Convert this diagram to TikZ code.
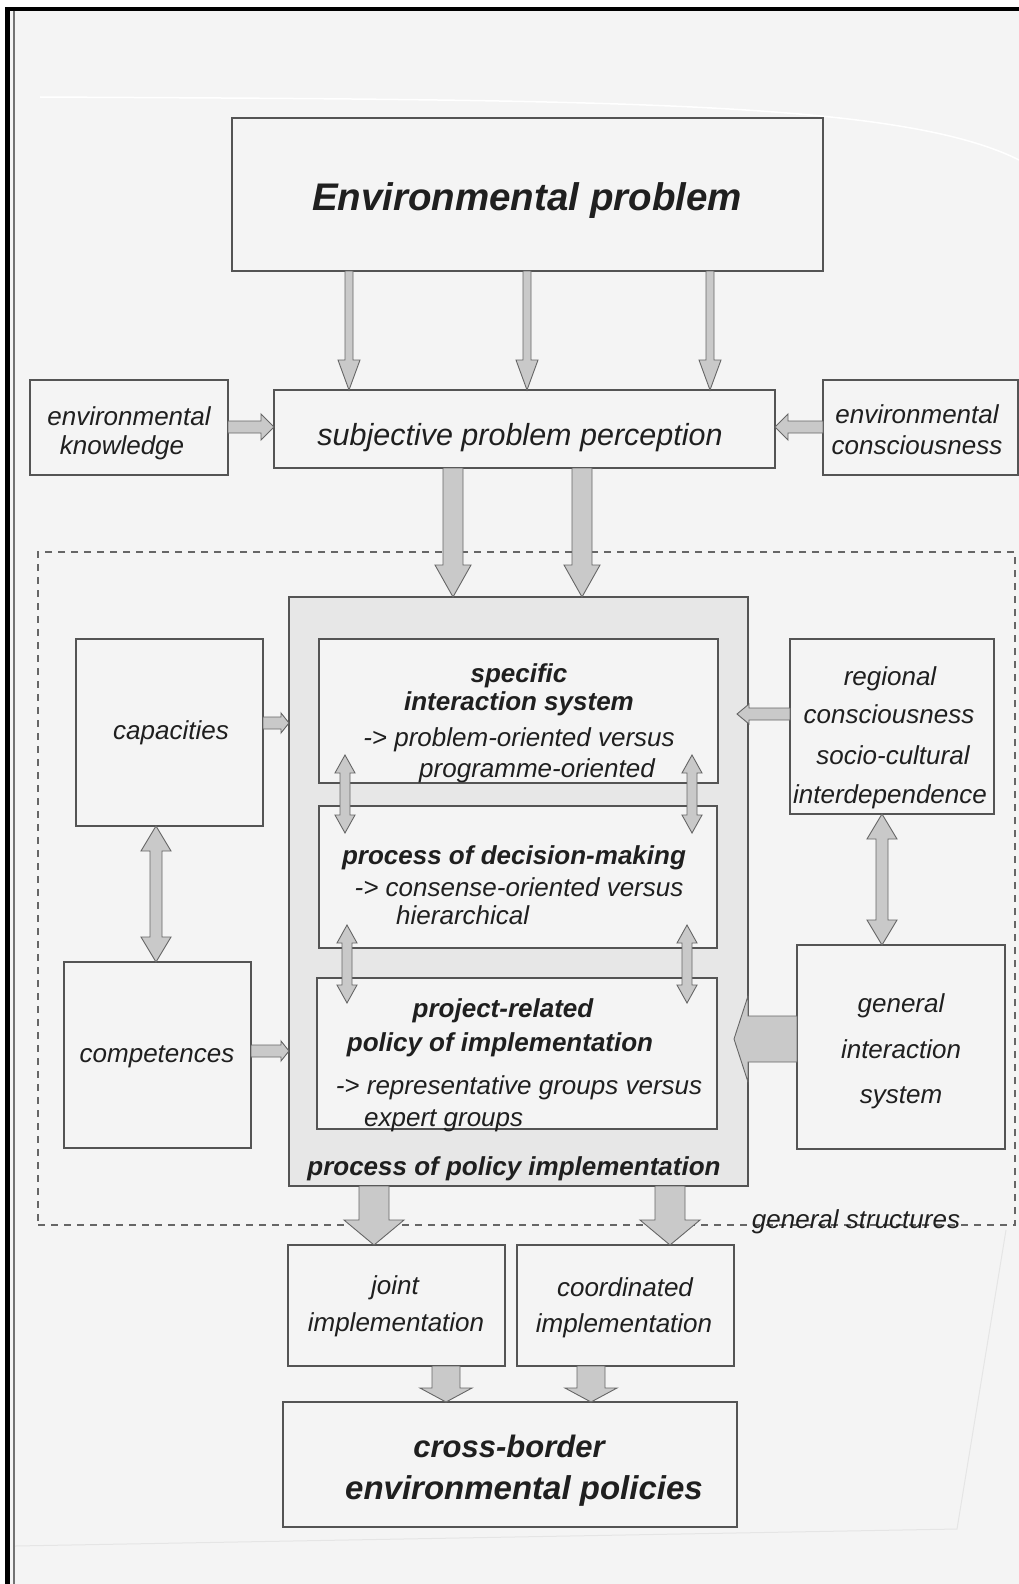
\documentclass[tikz,border=0pt]{standalone}
\usepackage{fontspec}
\setmainfont{Liberation Sans}
\usetikzlibrary{calc}
\definecolor{bg}{gray}{0.955}
\definecolor{boxline}{gray}{0.33}
\definecolor{arrfill}{gray}{0.79}
\definecolor{arrline}{gray}{0.40}
\definecolor{shade}{gray}{0.905}
\definecolor{innerbg}{gray}{0.955}
\definecolor{txt}{gray}{0.12}
\definecolor{dashcol}{gray}{0.40}
\newcommand\fsz[1]{\fontsize{#1}{#1}\selectfont}
% vertical single arrow: from, to, x, shaft half width, head half width, head length (+ down)
\newcommand\varr[7]{\draw[#7] let \p1=(#1), \p2=(#2) in
 (#3pt-#4pt,\y1) -- (#3pt+#4pt,\y1) -- (#3pt+#4pt,\y2+#6pt) -- (#3pt+#5pt,\y2+#6pt)
 -- (#3pt,\y2) -- (#3pt-#5pt,\y2+#6pt) -- (#3pt-#4pt,\y2+#6pt) -- cycle;}
% horizontal single arrow: from, to, y, shaft half width, head half width, head length (+ right, - left)
\newcommand\harr[7]{\draw[#7] let \p1=(#1), \p2=(#2), \n1={#6pt} in
 (\x1,-#3pt+#4pt) -- ({\x2-\n1},-#3pt+#4pt) -- ({\x2-\n1},-#3pt+#5pt) -- (\x2,-#3pt)
 -- ({\x2-\n1},-#3pt-#5pt) -- ({\x2-\n1},-#3pt-#4pt) -- (\x1,-#3pt-#4pt) -- cycle;}
% vertical double arrow: top, bottom, x, shaft half width, head half width, head length
\newcommand\dvarr[7]{\draw[#7] let \p1=(#1), \p2=(#2) in
 (#3pt,\y1) -- (#3pt+#5pt,\y1-#6pt) -- (#3pt+#4pt,\y1-#6pt) -- (#3pt+#4pt,\y2+#6pt)
 -- (#3pt+#5pt,\y2+#6pt) -- (#3pt,\y2) -- (#3pt-#5pt,\y2+#6pt) -- (#3pt-#4pt,\y2+#6pt)
 -- (#3pt-#4pt,\y1-#6pt) -- (#3pt-#5pt,\y1-#6pt) -- cycle;}
\begin{document}
\begin{tikzpicture}[x=1pt,y=-1pt,
  box/.style={draw=boxline,line width=1.3pt,fill=bg,inner sep=0pt,outer sep=0pt,anchor=north west},
  arr/.style={draw=arrline,fill=arrfill,line width=0.9pt,line join=miter},
  lbl/.style={text=txt,inner sep=0pt,anchor=base,font={\fsz{26}\itshape}},
  blbl/.style={text=txt,inner sep=0pt,anchor=base,font={\fsz{26}\bfseries\itshape}},
  lbll/.style={lbl,anchor=base west}]
\useasboundingbox (0,0) rectangle (1019,1584);
\fill[white] (0,0) rectangle (1019,1584);
\fill[bg] (8,9) rectangle (1019,1584);
% paper edges of the scan
\draw[white,line width=1.5pt] (40,97) .. controls (600,100) and (900,100) .. (1019,160);
\draw[gray!20,line width=1pt] (15,1546) -- (957,1529) -- (1006,1230);
% frame of the page
\fill[black] (5,7) rectangle (1019,11);
\fill[black] (5,7) rectangle (10,1584);
\draw[black!55,line width=1.5pt] (14,11) -- (14,1584);

% general structures region
\node[draw=dashcol,line width=1.2pt,dash pattern=on 7pt off 6pt,inner sep=0pt,outer sep=0pt,
  anchor=north west,minimum width=977pt,minimum height=673pt] (gen) at (38,552) {};
\node[lbl] (gentxt) at (856,1228) {general structures};

% boxes
\node[box,minimum width=591pt,minimum height=153pt] (ep) at (232,118) {};
\node[box,minimum width=501pt,minimum height=78pt] (spp) at (274,390) {};
\node[box,minimum width=198pt,minimum height=95pt] (ek) at (30,380) {};
\node[box,minimum width=195pt,minimum height=95pt] (ec) at (823,380) {};
\node[box,fill=shade,minimum width=459pt,minimum height=589pt] (outer) at (289,597) {};
\node[box,fill=innerbg,minimum width=399pt,minimum height=144pt] (in1) at (319,639) {};
\node[box,fill=innerbg,minimum width=398pt,minimum height=142pt] (in2) at (319,806) {};
\node[box,fill=innerbg,minimum width=400pt,minimum height=151pt] (in3) at (317,978) {};
\node[box,minimum width=187pt,minimum height=187pt] (cap) at (76,639) {};
\node[box,minimum width=187pt,minimum height=186pt] (comp) at (64,962) {};
\node[box,minimum width=204pt,minimum height=175pt] (reg) at (790,639) {};
\node[box,minimum width=208pt,minimum height=204pt] (gis) at (797,945) {};
\node[box,minimum width=217pt,minimum height=121pt] (joint) at (288,1245) {};
\node[box,minimum width=217pt,minimum height=121pt] (coord) at (517,1245) {};
\node[box,minimum width=454pt,minimum height=125pt] (cb) at (283,1402) {};

% connectors
\varr{ep.south}{spp.north}{349}{4}{11}{30}{arr}
\varr{ep.south}{spp.north}{527}{4}{11}{30}{arr}
\varr{ep.south}{spp.north}{710}{4}{11}{30}{arr}
\harr{ek.east}{spp.west}{427}{6}{13}{13}{arr}
\harr{ec.west}{spp.east}{427}{6}{13}{-13}{arr}
\varr{spp.south}{outer.north}{453}{10}{18}{32}{arr}
\varr{spp.south}{outer.north}{582}{10}{18}{32}{arr}
\harr{cap.east}{outer.west}{723}{6}{10}{8}{arr}
\harr{comp.east}{outer.west}{1051}{6}{10}{8}{arr}
\dvarr{cap.south}{comp.north}{156}{6}{15}{25}{arr}
\harr{reg.west}{$(outer.east)+(-11,0)$}{714}{6}{10}{-12}{arr}
\dvarr{reg.south}{gis.north}{882}{6}{15}{25}{arr}
\harr{gis.west}{$(outer.east)+(-14,0)$}{1039}{23}{43}{-14}{arr}
\coordinate (d1t) at (345,755); \coordinate (d1b) at (345,833);
\coordinate (d2t) at (692,755); \coordinate (d2b) at (692,833);
\coordinate (d3t) at (347,925); \coordinate (d3b) at (347,1003);
\coordinate (d4t) at (687,925); \coordinate (d4b) at (687,1003);
\dvarr{d1t}{d1b}{345}{5}{10}{18}{arr}
\dvarr{d2t}{d2b}{692}{5}{10}{18}{arr}
\dvarr{d3t}{d3b}{347}{5}{10}{18}{arr}
\dvarr{d4t}{d4b}{687}{5}{10}{18}{arr}
\varr{outer.south}{joint.north}{374}{15}{30}{25}{arr}
\varr{outer.south}{coord.north}{670}{15}{30}{25}{arr}
\varr{joint.south}{cb.north}{446}{14}{26}{14}{arr}
\varr{coord.south}{cb.north}{591}{14}{26}{14}{arr}

% texts
\node[blbl,font={\fsz{38.5}\bfseries\itshape}] (t1) at (527,210) {Environmental problem};
\node[lbl,font={\fsz{30.5}\itshape}] (t2) at (520,445) {subjective problem perception};
\node[lbl] (t3) at (129,425) {environmental};
\node[lbl] (t4) at (122,454) {knowledge};
\node[lbl] (t5) at (917,423) {environmental};
\node[lbl] (t6) at (917,454) {consciousness};
\node[lbl] (t7) at (171,739) {capacities};
\node[lbl] (t8) at (157,1062) {competences};
\node[blbl] (t9) at (519,682) {specific};
\node[blbl] (t10) at (519,710) {interaction system};
\node[lbl] (t11) at (519,746) {-> problem-oriented versus};
\node[lbl] (t12) at (537,777) {programme-oriented};
\node[blbl] (t13) at (514,864) {process of decision-making};
\node[lbl] (t14) at (519,896) {-> consense-oriented versus};
\node[lbll] (t15) at (396,924) {hierarchical};
\node[blbl] (t16) at (503,1017) {project-related};
\node[blbl] (t17) at (500,1051) {policy of implementation};
\node[lbl] (t18) at (519,1094) {-> representative groups versus};
\node[lbll] (t19) at (364,1126) {expert groups};
\node[blbl] (t20) at (514,1175) {process of policy implementation};
\node[lbl] (t21) at (890,685) {regional};
\node[lbl] (t22) at (889,723) {consciousness};
\node[lbl] (t23) at (893,764) {socio-cultural};
\node[lbl] (t24) at (890,803) {interdependence};
\node[lbl] (t25) at (901,1012) {general};
\node[lbl] (t26) at (901,1058) {interaction};
\node[lbl] (t27) at (901,1103) {system};
\node[lbl] (t28) at (395,1294) {joint};
\node[lbl] (t29) at (396,1331) {implementation};
\node[lbl] (t30) at (625,1296) {coordinated};
\node[lbl] (t31) at (624,1332) {implementation};
\node[blbl,font={\fsz{31}\bfseries\itshape}] (t32) at (509,1457) {cross-border};
\node[blbl,font={\fsz{33}\bfseries\itshape}] (t33) at (524,1499) {environmental policies};
\end{tikzpicture}
\end{document}
